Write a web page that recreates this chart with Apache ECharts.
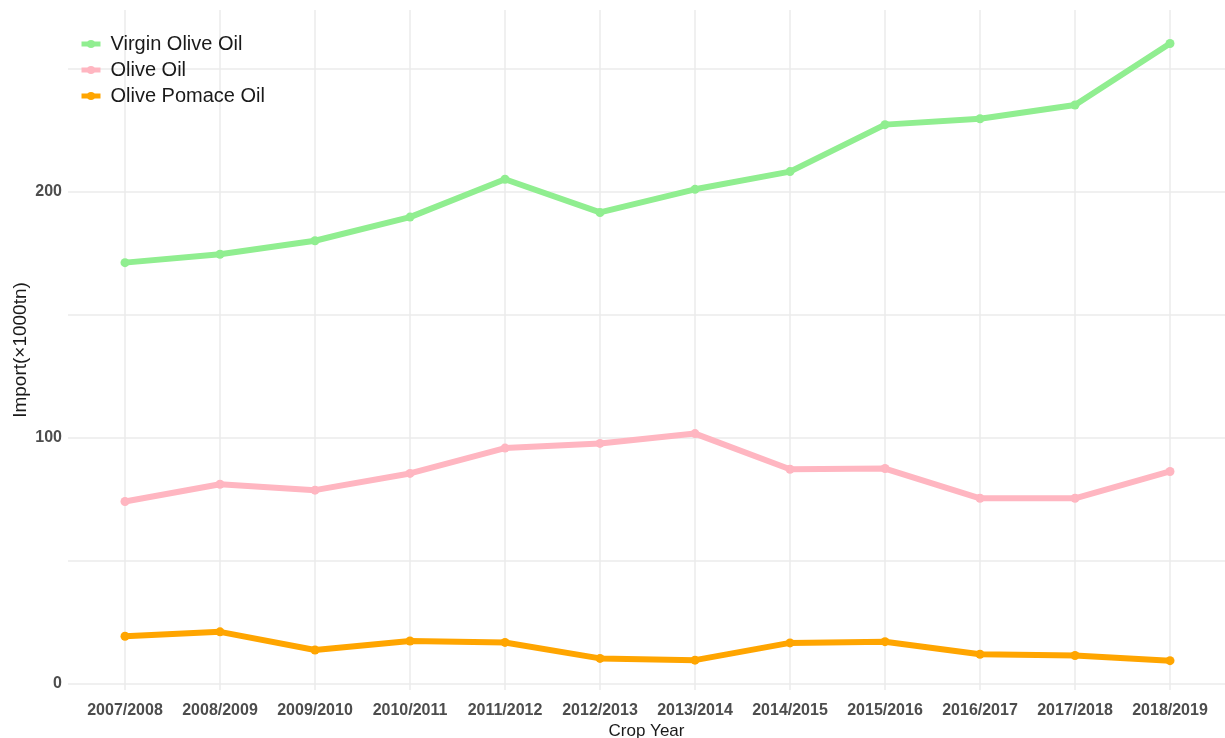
<!DOCTYPE html>
<html>
<head>
<meta charset="utf-8">
<script src="https://cdn.jsdelivr.net/npm/echarts@6/dist/echarts.min.js"></script>
<style>
html,body{margin:0;padding:0;background:#fff;}
#chart{width:1225px;height:738px;}
</style>
</head>
<body>
<div id="chart"></div>
<script>
const categories = ['2007/2008','2008/2009','2009/2010','2010/2011','2011/2012','2012/2013','2013/2014','2014/2015','2015/2016','2016/2017','2017/2018','2018/2019'];
const virginOliveOil = [171.1, 174.5, 180.0, 189.6, 205.0, 191.5, 200.9, 208.1, 227.2, 229.6, 235.2, 260.2];
const oliveOil = [74.0, 81.0, 78.6, 85.4, 95.7, 97.6, 101.6, 87.1, 87.4, 75.3, 75.3, 86.2];
const olivePomaceOil = [19.2, 21.0, 13.6, 17.3, 16.7, 10.2, 9.5, 16.5, 17.0, 11.9, 11.4, 9.3];
const yTickLabels = [0, 100, 200];

const chart = echarts.init(document.getElementById('chart'));
const FONT = '"Liberation Sans", Arial, sans-serif';
const GRID_C = '#EBEBEB';

function mk(name, data, color) {
  return {
    name: name, type: 'line', data: data,
    xAxisIndex: 0, yAxisIndex: 0,
    symbol: 'circle', symbolSize: 9,
    itemStyle: {color: color},
    lineStyle: {color: color, width: 6},
    emphasis: {disabled: true},
    animation: false
  };
}

chart.setOption({
  backgroundColor: '#ffffff',
  animation: false,
  textStyle: {fontFamily: FONT},
  grid: [
    {left: 125, right: 55, top: 10, bottom: 48, containLabel: false, outerBoundsMode: 'none'},
    {left: 68, right: 0, top: 68.5, bottom: 54.5, containLabel: false, outerBoundsMode: 'none'}
  ],
  legend: {
    orient: 'vertical', left: 74, top: 29,
    itemWidth: 19, itemHeight: 10, itemGap: 6,
    textStyle: {fontSize: 20, color: '#1a1a1a', fontFamily: FONT, padding: [0, 0, 0, 5]},
    lineStyle: {width: 5},
    data: ['Virgin Olive Oil', 'Olive Oil', 'Olive Pomace Oil']
  },
  xAxis: [
    {
      type: 'category', gridIndex: 0, data: categories, boundaryGap: false,
      axisLine: {show: false}, axisTick: {show: false},
      axisLabel: {interval: 0, fontSize: 16, fontWeight: 'bold', color: '#4d4d4d', margin: 13, fontFamily: FONT},
      splitLine: {show: true, interval: 0, lineStyle: {color: GRID_C, width: 1.5}}
    },
    {
      type: 'value', gridIndex: 1, min: 0, max: 1,
      axisLine: {show: false}, axisTick: {show: false}, axisLabel: {show: false},
      splitLine: {show: false},
      name: 'Crop Year', nameLocation: 'middle', nameGap: 39,
      nameTextStyle: {fontSize: 17, color: '#1a1a1a', fontFamily: FONT}
    }
  ],
  yAxis: [
    {
      type: 'value', gridIndex: 0, min: -2.64, max: 273.8,
      axisLine: {show: false}, axisTick: {show: false}, axisLabel: {show: false},
      splitLine: {show: false},
      name: 'Import(×1000tn)', nameLocation: 'middle', nameRotate: 90, nameGap: 95,
      nameTextStyle: {fontSize: 19, color: '#1a1a1a', fontFamily: FONT, padding: [0, 0, 0, 0]}
    },
    {
      type: 'value', gridIndex: 1, min: 0, max: 250, interval: 50,
      axisLine: {show: false}, axisTick: {show: false},
      axisLabel: {
        fontSize: 16, fontWeight: 'bold', color: '#4d4d4d', margin: 6, fontFamily: FONT,
        formatter: function (v) { return yTickLabels.indexOf(v) >= 0 ? String(v) : ''; }
      },
      splitLine: {show: true, lineStyle: {color: GRID_C, width: 1.5}}
    }
  ],
  series: [
    mk('Virgin Olive Oil', virginOliveOil, '#90EE90'),
    mk('Olive Oil', oliveOil, '#FFB6C1'),
    mk('Olive Pomace Oil', olivePomaceOil, '#FFA500')
  ]
});
</script>
</body>
</html>
